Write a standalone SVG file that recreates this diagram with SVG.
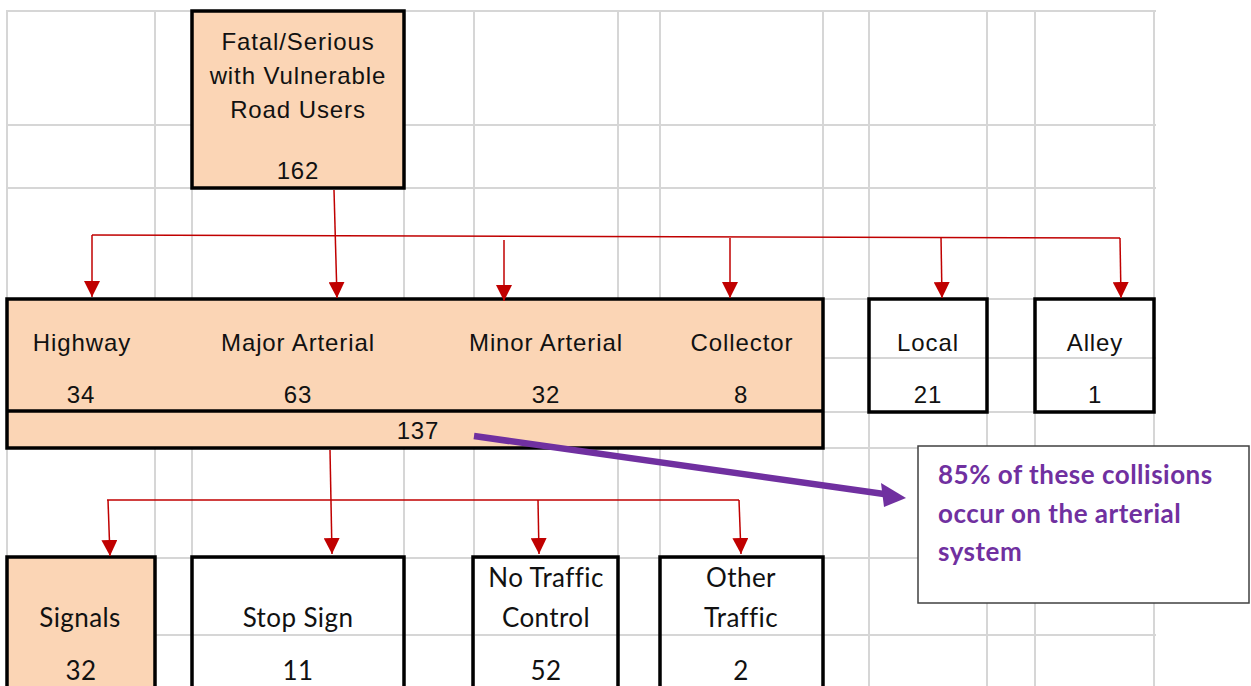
<svg xmlns="http://www.w3.org/2000/svg" width="1251" height="686" viewBox="0 0 1251 686">
<style>
.grid line{stroke:#d6d6d6;stroke-width:2}
.box{stroke:#000;stroke-width:3.5}
.peach{fill:#fbd5b5}
.clear{fill:none}
.t{font-family:"Liberation Sans",Arial,sans-serif;font-size:24px;letter-spacing:0.9px;fill:#111;text-anchor:middle}
.c{font-family:Lato,"Open Sans",sans-serif;font-size:26px;letter-spacing:0.4px;fill:#111;text-anchor:middle}
.red{stroke:#c00000;stroke-width:1.5;fill:none}
.note{font-family:Lato,"Open Sans",sans-serif;font-size:26px;letter-spacing:0.5px;font-weight:bold;fill:#7030a0}
</style>
<defs>
<marker id="ah" markerWidth="16" markerHeight="16" viewBox="0 0 16 16" refX="16" refY="8" orient="auto" markerUnits="userSpaceOnUse">
<path d="M0,0 L16,8 L0,16 Z" fill="#c00000"/>
</marker>
</defs>
<rect width="1251" height="686" fill="#fff"/>
<g class="grid">
<line x1="7" y1="11" x2="7" y2="686"/>
<line x1="155" y1="11" x2="155" y2="686"/>
<line x1="192" y1="11" x2="192" y2="686"/>
<line x1="404" y1="11" x2="404" y2="686"/>
<line x1="474" y1="11" x2="474" y2="686"/>
<line x1="618" y1="11" x2="618" y2="686"/>
<line x1="660" y1="11" x2="660" y2="686"/>
<line x1="823" y1="11" x2="823" y2="686"/>
<line x1="869" y1="11" x2="869" y2="686"/>
<line x1="987" y1="11" x2="987" y2="686"/>
<line x1="1035" y1="11" x2="1035" y2="686"/>
<line x1="1154" y1="11" x2="1154" y2="686"/>
<line x1="6" y1="11" x2="1156" y2="11"/>
<line x1="6" y1="125" x2="1156" y2="125"/>
<line x1="6" y1="188" x2="1156" y2="188"/>
<line x1="6" y1="299" x2="1156" y2="299"/>
<line x1="6" y1="358" x2="1156" y2="358"/>
<line x1="6" y1="412" x2="1156" y2="412"/>
<line x1="6" y1="448" x2="1156" y2="448"/>
<line x1="6" y1="558" x2="1156" y2="558"/>
<line x1="6" y1="635" x2="1156" y2="635"/>
</g>
<g id="top">
<rect class="box peach" x="192" y="11" width="212" height="177"/>
<text class="t" x="298" y="50">Fatal/Serious</text>
<text class="t" x="298" y="84">with Vulnerable</text>
<text class="t" x="298" y="118">Road Users</text>
<text class="t" x="298" y="179">162</text>
</g>
<g id="arterial">
<rect class="box peach" x="7" y="299" width="816" height="149"/>
<line x1="7" y1="411" x2="823" y2="411" stroke="#000" stroke-width="3.5"/>
<text class="t" x="82" y="351">Highway</text>
<text class="t" x="298" y="351">Major Arterial</text>
<text class="t" x="546" y="351">Minor Arterial</text>
<text class="t" x="742" y="351">Collector</text>
<text class="t" x="81" y="403">34</text>
<text class="t" x="298" y="403">63</text>
<text class="t" x="546" y="403">32</text>
<text class="t" x="741" y="403">8</text>
<text class="t" x="418" y="439">137</text>
</g>
<g id="local">
<rect class="box clear" x="869" y="299" width="118" height="113"/>
<text class="t" x="928" y="351">Local</text>
<text class="t" x="928" y="403">21</text>
</g>
<g id="alley">
<rect class="box clear" x="1035" y="299" width="119" height="113"/>
<text class="t" x="1095" y="351">Alley</text>
<text class="t" x="1095" y="403">1</text>
</g>
<g id="note">
<rect x="918" y="446" width="331" height="157" fill="#fff" stroke="#404040" stroke-width="1.5"/>
<text class="note" x="938" y="484">85% of these collisions</text>
<text class="note" x="938" y="523">occur on the arterial</text>
<text class="note" x="938" y="561">system</text>
</g>
<g id="signals">
<rect class="box peach" x="7" y="557" width="148" height="140"/>
<text class="c" x="80" y="627">Signals</text>
<text class="c" x="81" y="680">32</text>
</g>
<g id="stop">
<rect class="box clear" x="192" y="557" width="212" height="140"/>
<text class="c" x="298" y="627">Stop Sign</text>
<text class="c" x="298" y="680">11</text>
</g>
<g id="notraffic">
<rect class="box clear" x="473" y="557" width="145" height="140"/>
<text class="c" x="546" y="587">No Traffic</text>
<text class="c" x="546" y="627">Control</text>
<text class="c" x="546" y="680">52</text>
</g>
<g id="other">
<rect class="box clear" x="660" y="557" width="163" height="140"/>
<text class="c" x="741" y="587">Other</text>
<text class="c" x="741" y="627">Traffic</text>
<text class="c" x="741" y="680">2</text>
</g>
<g id="connectors">
<path class="red" d="M334,190 L337,298" marker-end="url(#ah)"/>
<path class="red" d="M92,235 L1120,238"/>
<path class="red" d="M92,235 L92,297" marker-end="url(#ah)"/>
<path class="red" d="M504,240 L504,301" marker-end="url(#ah)"/>
<path class="red" d="M730,238 L730,298" marker-end="url(#ah)"/>
<path class="red" d="M941,237 L942,298" marker-end="url(#ah)"/>
<path class="red" d="M1120,238 L1121,298" marker-end="url(#ah)"/>
<path class="red" d="M330,450 L332,554" marker-end="url(#ah)"/>
<path class="red" d="M107,500 L739,500"/>
<path class="red" d="M108,500 L110,556" marker-end="url(#ah)"/>
<path class="red" d="M538,500 L539,554" marker-end="url(#ah)"/>
<path class="red" d="M739,500 L741,554" marker-end="url(#ah)"/>
<line x1="474" y1="436" x2="884" y2="494" stroke="#7030a0" stroke-width="6.5"/>
<path d="M906,498 L881,483 L884,507 Z" fill="#7030a0"/>
</g>
</svg>
